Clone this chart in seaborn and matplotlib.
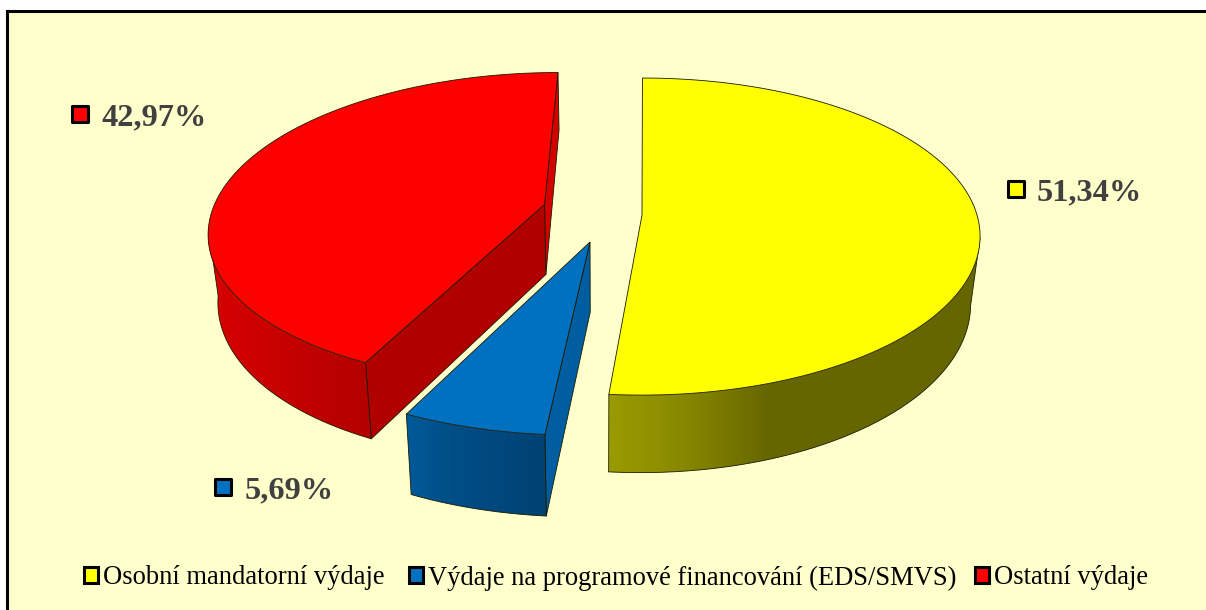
import numpy as np
import matplotlib
matplotlib.use("Agg")
import matplotlib.pyplot as plt
from matplotlib.colors import to_rgb
from matplotlib.patches import Patch, Polygon, Rectangle
import seaborn as sns

categories = ["Osobní mandatorní výdaje", "Výdaje na programové financování (EDS/SMVS)", "Ostatní výdaje"]
shares = [51.34, 5.69, 42.97]
value_labels = ["51,34%", "5,69%", "42,97%"]

sns.set_theme(style="white")
plt.rcParams["font.family"] = ["Liberation Serif", "DejaVu Serif"]

TOP = ["#FFFF00", "#0070C0", "#FF0000"]
CUT = ["#8C8C00", "#005EA0", "#B00000"]
BACK = [None, "#005EA0", "#D40000"]
RIM = [["#9A9A00", "#8E8E00", "#7C7C00", "#666600", "#666600", "#666600", "#666600", "#666600"],
       ["#005A9A", "#004E86", "#00487E", "#004272"],
       ["#D80000", "#CC0000", "#BE0000", "#B40000"]]
# geometry of each slice: vertex x, y, rx, ry, shear, perspective, rim depth, vertex depth
GEOM = [(642, 215, 335, 155.6, 0.5, 0.136, 67, 67),
        (590, 242, 358, 167, 8.9, 0.136, 70.5, 70),
        (544.5, 204.5, 330, 151.5, 15.5, 0.148, 66, 70)]
CX0 = 600
SHRINK = 0.025

fig = plt.figure(figsize=(12.06, 6.10), dpi=100, facecolor="white")
ax = fig.add_axes([0, 0, 1, 1])
ax.add_patch(Rectangle((7, 11), 1300, 700, fc="#FFFFCC", ec="black", lw=2.2, zorder=0))


def top_pt(g, t):
    cx, cy, rx, ry, s, k = g[:6]
    u, v = np.sin(t), np.cos(t)
    w = 1 + k * v
    return cx + (rx * u + s * v) / w, cy - ry * v / w


def bottom_pt(g, t):
    x, y = top_pt(g, t)
    w = 1 + g[5] * np.cos(t)
    return x + (CX0 - x) * SHRINK, y + g[6] / w


def bottom_vertex(g):
    x, y = g[0], g[1]
    return x + (CX0 - x) * SHRINK, y + g[7]


LINE = "#1a1a00"
edge = dict(ec=LINE, lw=0.6)
cum = np.cumsum([0] + shares)
# Yellow first, then red, then blue in front
for i in [0, 2, 1]:
    g = GEOM[i]
    k = g[5]
    a0, a1 = np.radians(cum[i] * 3.6), np.radians(cum[i + 1] * 3.6)
    ts = np.linspace(a0, a1, 400)
    tx, ty = top_pt(g, ts)
    bx, by = bottom_pt(g, ts)
    vx, vy = g[0], g[1]
    bvx, bvy = bottom_vertex(g)
    z = 3 + i
    # flat cut faces
    if i == 1:
        ax.fill([vx, tx[0], bx[0], bvx], [vy, ty[0], by[0], bvy], fc=BACK[i], **edge, zorder=z)
    if i == 2:
        ax.fill([vx, tx[-1], bx[-1], bvx], [vy, ty[-1], by[-1], bvy], fc=BACK[i], **edge, zorder=z)
        ax.fill([vx, tx[0], bx[0], bvx], [vy, ty[0], by[0], bvy], fc=CUT[i], **edge, zorder=z)
    # rim with horizontal shading, clipped to the visible band
    idx = np.where(np.cos(ts) < -k)[0]
    poly_xy = np.c_[np.r_[tx[idx], bx[idx][::-1]], np.r_[ty[idx], by[idx][::-1]]]
    lo, hi = poly_xy[:, 0].min(), poly_xy[:, 0].max()
    grad = np.array([[to_rgb(c) for c in sns.blend_palette(RIM[i], n_colors=256)]])
    im = ax.imshow(grad, extent=(lo, hi, poly_xy[:, 1].max(), poly_xy[:, 1].min()),
                   aspect="auto", interpolation="bilinear", zorder=z + 0.2)
    clip = Polygon(poly_xy, closed=True, transform=ax.transData)
    im.set_clip_path(clip)
    ax.plot(bx[idx], by[idx], color=LINE, lw=0.6, zorder=z + 0.3)
    # outer silhouette / corner edges of the rim
    for j in (idx[0], idx[-1]):
        ax.plot([tx[j], bx[j]], [ty[j], by[j]], color=LINE, lw=0.6, zorder=z + 0.3)
    # top face
    ax.fill(np.r_[vx, tx], np.r_[vy, ty], fc=TOP[i], **edge, zorder=z + 0.5)

ax.set_xlim(0, 1206)
ax.set_ylim(610, 0)
ax.axis("off")

label_pos = [(1016, 189), (223, 487), (80, 114)]
text_x = [1037, 245, 102]
for i in range(3):
    x, y = label_pos[i]
    ax.scatter([x], [y], s=125, marker="s", fc=TOP[i], ec="black", lw=2.2, zorder=9)
    ax.text(text_x[i], y + 4, value_labels[i], fontsize=23.3, fontweight="bold", color="#404040",
            ha="left", va="center", zorder=9)

legend_x = [84, 409, 975]
for i in range(3):
    leg = ax.legend([Patch(fc=TOP[i], ec="black", lw=2.2)], [categories[i]], loc="center left",
                    bbox_to_anchor=(legend_x[i] / 1206, 1 - 578 / 610), frameon=False, fontsize=19.1,
                    handlelength=0.53, handleheight=0.53, handletextpad=0.2, labelcolor="black",
                    borderpad=0, borderaxespad=0)
    if i < 2:
        ax.add_artist(leg)

fig.savefig("out.png", dpi=100)
